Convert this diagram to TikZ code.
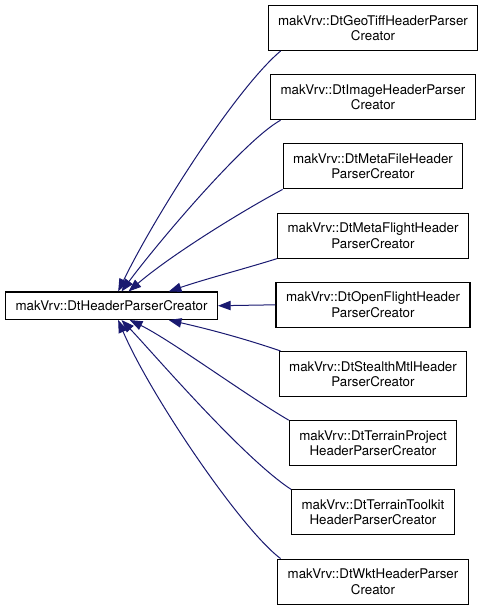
\documentclass[tikz,border=0pt]{standalone}
\usepackage{fontspec}
\setmainfont{TeX Gyre Heros}
\usetikzlibrary{arrows.meta}
\definecolor{edgeblue}{HTML}{191970}
\tikzset{
	classbox/.style={draw=black, line width=0.8pt, fill=white, align=center,
		inner xsep=7.5pt, minimum height=33.75pt, font=\fontsize{10}{11.5}\selectfont},
	inherit/.style={draw=edgeblue, line width=0.75pt, -{Triangle[length=9.5pt,width=7pt]}}
}

\begin{document}
\begin{tikzpicture}[x=0.75pt,y=-0.75pt]
	
	\useasboundingbox (0,0) rectangle (485,611);
	
	\node[classbox, minimum height=20.6pt] (base) at (111.5,305.75) {makVrv::DtHeaderParserCreator};
	
	\node[classbox] (geotiff) at (373,28) {makVrv::DtGeoTiffHeaderParser\\Creator};
	\node[classbox] (image) at (373,97.2) {makVrv::DtImageHeaderParser\\Creator};
	\node[classbox] (metafile) at (373,166.4) {makVrv::DtMetaFileHeader\\ParserCreator};
	\node[classbox] (metaflight) at (373,235.6) {makVrv::DtMetaFlightHeader\\ParserCreator};
	\node[classbox] (openflight) at (373,304.8) {makVrv::DtOpenFlightHeader\\ParserCreator};
	\node[classbox] (stealth) at (373,374) {makVrv::DtStealthMtlHeader\\ParserCreator};
	\node[classbox] (project) at (373,443.2) {makVrv::DtTerrainProject\\HeaderParserCreator};
	\node[classbox] (toolkit) at (373,512.4) {makVrv::DtTerrainToolkit\\HeaderParserCreator};
	\node[classbox] (wkt) at (373,581.6) {makVrv::DtWktHeaderParser\\Creator};
	
	\draw[inherit] (geotiff.-166) .. controls +(-45,38) and +(37,-76) .. (base.65);
	\draw[inherit] (image.-166) .. controls +(-35,19) and +(38,-51) .. (base.55);
	\draw[inherit] (metafile.south west) .. controls +(-43,23) and +(42,-36) .. (base.40);
	\draw[inherit] (metaflight.south west) .. controls +(-32,10) and +(35,-12) .. (base.14);
	\draw[inherit] (openflight.west) -- (base.east);
	\draw[inherit] (stealth.166) .. controls +(-41,-14) and +(35,8) .. (base.-14);
	\draw[inherit] (project.north west) .. controls +(-43,-25) and +(41,20) .. (base.-38);
	\draw[inherit] (toolkit.north west) .. controls +(-49,-32) and +(29,30) .. (base.-55);
	\draw[inherit] (wkt.166) .. controls +(-40,-30) and +(32,75) .. (base.-65);
	
\end{tikzpicture}
\end{document}
